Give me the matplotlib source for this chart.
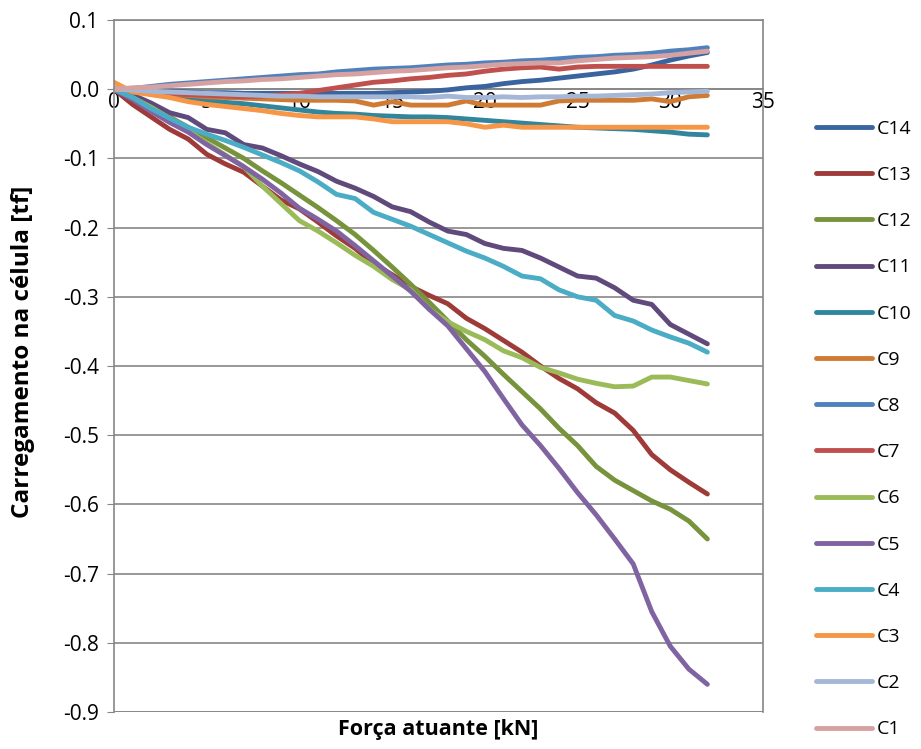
import matplotlib
matplotlib.use("Agg")
import matplotlib.pyplot as plt

# força atuante [kN]
forca = list(range(0, 33))

# carregamento na célula [tf], one list per cell
c14 = [0, -0.001, -0.002, -0.003, -0.004, -0.005, -0.005, -0.006, -0.006, -0.006, -0.006,
       -0.006, -0.006, -0.006, -0.006, -0.005, -0.004, -0.003, -0.001, 0.002, 0.004,
       0.008, 0.011, 0.013, 0.016, 0.019, 0.022, 0.025, 0.029, 0.035, 0.042, 0.048, 0.053]
c13 = [0, -0.022, -0.040, -0.058, -0.072, -0.094, -0.108, -0.120, -0.140, -0.160, -0.173,
       -0.192, -0.212, -0.230, -0.252, -0.268, -0.285, -0.298, -0.310, -0.331, -0.346,
       -0.363, -0.380, -0.400, -0.418, -0.433, -0.453, -0.468, -0.493, -0.528, -0.550,
       -0.568, -0.585]
c12 = [0, -0.010, -0.025, -0.040, -0.055, -0.070, -0.085, -0.100, -0.118, -0.135, -0.153,
       -0.171, -0.190, -0.210, -0.233, -0.257, -0.282, -0.308, -0.335, -0.362, -0.386,
       -0.412, -0.437, -0.462, -0.490, -0.515, -0.545, -0.565, -0.580, -0.595, -0.607,
       -0.624, -0.650]
c11 = [0, -0.008, -0.020, -0.034, -0.041, -0.058, -0.063, -0.080, -0.085, -0.096, -0.108,
       -0.119, -0.133, -0.143, -0.155, -0.170, -0.177, -0.192, -0.205, -0.210, -0.223,
       -0.230, -0.233, -0.244, -0.257, -0.270, -0.273, -0.287, -0.305, -0.311, -0.340,
       -0.354, -0.368]
c10 = [0, -0.003, -0.006, -0.010, -0.013, -0.016, -0.019, -0.021, -0.024, -0.027, -0.030,
       -0.033, -0.035, -0.036, -0.038, -0.039, -0.040, -0.040, -0.041, -0.043, -0.045,
       -0.047, -0.049, -0.051, -0.053, -0.055, -0.056, -0.057, -0.058, -0.060, -0.062,
       -0.065, -0.066]
c9 = [0, -0.002, -0.004, -0.007, -0.009, -0.011, -0.012, -0.013, -0.014, -0.015, -0.016,
      -0.016, -0.016, -0.017, -0.023, -0.018, -0.023, -0.023, -0.023, -0.017, -0.023,
      -0.023, -0.023, -0.023, -0.017, -0.016, -0.016, -0.016, -0.016, -0.014, -0.018,
      -0.011, -0.009]
c8 = [0, 0.001, 0.004, 0.007, 0.009, 0.011, 0.013, 0.015, 0.017, 0.019, 0.021, 0.022,
      0.025, 0.027, 0.029, 0.030, 0.031, 0.033, 0.035, 0.036, 0.038, 0.039, 0.041, 0.042,
      0.044, 0.046, 0.047, 0.049, 0.050, 0.052, 0.055, 0.057, 0.060]
c7 = [0, -0.002, -0.004, -0.006, -0.008, -0.009, -0.010, -0.011, -0.010, -0.008, -0.006,
      -0.002, 0.002, 0.006, 0.010, 0.012, 0.015, 0.017, 0.020, 0.022, 0.026, 0.029, 0.031,
      0.032, 0.029, 0.032, 0.033, 0.033, 0.033, 0.033, 0.033, 0.033, 0.033]
c6 = [0, -0.012, -0.026, -0.042, -0.060, -0.078, -0.095, -0.112, -0.140, -0.165, -0.190,
      -0.205, -0.222, -0.240, -0.256, -0.275, -0.290, -0.318, -0.336, -0.350, -0.362,
      -0.378, -0.388, -0.402, -0.410, -0.419, -0.425, -0.430, -0.429, -0.416, -0.416,
      -0.421, -0.426]
c5 = [0, -0.015, -0.032, -0.048, -0.062, -0.080, -0.096, -0.112, -0.130, -0.150, -0.172,
      -0.188, -0.205, -0.226, -0.248, -0.270, -0.292, -0.318, -0.342, -0.375, -0.408,
      -0.447, -0.485, -0.515, -0.548, -0.583, -0.615, -0.650, -0.686, -0.755, -0.805,
      -0.838, -0.860]
c4 = [0, -0.012, -0.028, -0.042, -0.055, -0.065, -0.074, -0.084, -0.095, -0.106, -0.118,
      -0.134, -0.152, -0.158, -0.178, -0.188, -0.198, -0.210, -0.222, -0.234, -0.244,
      -0.256, -0.270, -0.274, -0.290, -0.300, -0.305, -0.327, -0.335, -0.348, -0.358,
      -0.367, -0.380]
c3 = [0.010, -0.004, -0.008, -0.012, -0.018, -0.022, -0.025, -0.028, -0.031, -0.035,
      -0.038, -0.040, -0.040, -0.040, -0.043, -0.047, -0.047, -0.047, -0.047, -0.050,
      -0.055, -0.052, -0.055, -0.055, -0.055, -0.055, -0.055, -0.055, -0.055, -0.055,
      -0.055, -0.055, -0.055]
c2 = [0, -0.001, -0.003, -0.004, -0.005, -0.006, -0.007, -0.008, -0.009, -0.010, -0.010,
      -0.011, -0.011, -0.011, -0.011, -0.011, -0.011, -0.012, -0.010, -0.012, -0.012,
      -0.011, -0.012, -0.011, -0.011, -0.010, -0.010, -0.009, -0.008, -0.007, -0.005,
      -0.004, -0.003]
c1 = [0, 0.002, 0.003, 0.005, 0.007, 0.009, 0.011, 0.012, 0.014, 0.015, 0.017, 0.019,
      0.021, 0.022, 0.024, 0.026, 0.027, 0.029, 0.031, 0.032, 0.034, 0.036, 0.037, 0.038,
      0.038, 0.041, 0.043, 0.045, 0.046, 0.047, 0.049, 0.052, 0.055]

series = [("C14", c14, "#3A64A0"), ("C13", c13, "#9E3A38"), ("C12", c12, "#77933C"),
          ("C11", c11, "#604A7B"), ("C10", c10, "#31859C"), ("C9", c9, "#D07B33"),
          ("C8", c8, "#4F81BD"), ("C7", c7, "#C0504D"), ("C6", c6, "#9BBB59"),
          ("C5", c5, "#8064A2"), ("C4", c4, "#4BACC6"), ("C3", c3, "#F79646"),
          ("C2", c2, "#A5B7D7"), ("C1", c1, "#D6A2A1")]

grey = "#868686"
plt.rcParams["font.family"] = ["Open Sans", "DejaVu Sans"]

fig = plt.figure(figsize=(9.21, 7.49), dpi=100)
ax = fig.add_axes([114 / 921, 1 - 712 / 749, (763 - 114) / 921, (712 - 20) / 749])

for name, vals, col in series:
    ax.plot(forca, vals, color=col, lw=3.5, label=name,
            solid_capstyle="round", solid_joinstyle="round")

ax.set_xlim(0, 35)
ax.set_ylim(-0.9, 0.1)
ax.set_xticks(range(0, 36, 5))
ax.set_yticks([i / 10 for i in range(-9, 2)])
ax.set_yticklabels([f"{i / 10:.1f}" for i in range(-9, 2)])
ax.yaxis.grid(True, color=grey, lw=1.2)
ax.set_axisbelow(True)
ax.axhline(-0.9, color=grey, lw=1.2, zorder=0)

# x axis crosses at zero, like the original
ax.spines["bottom"].set_position(("data", 0))
for s in ax.spines.values():
    s.set_color(grey)
    s.set_linewidth(1.2)
ax.spines["bottom"].set_zorder(0)
ax.tick_params(axis="x", length=0, pad=2, labelsize=15)
ax.tick_params(axis="y", length=5, color=grey, pad=6, labelsize=15)

ax.set_xlabel("Força atuante [kN]", fontsize=15.5, fontweight="bold")
ax.xaxis.set_label_coords(0.5, -0.01)
ax.set_ylabel("Carregamento na célula [tf]", fontsize=17.5, fontweight="bold")
ax.yaxis.set_label_coords(-0.122, 0.52)

fig.legend(loc="upper left", bbox_to_anchor=(808 / 921, 1 - 112 / 749), frameon=False,
           fontsize=14, handlelength=2.9, handletextpad=0.25, labelspacing=1.45,
           borderaxespad=0)

fig.savefig("out.png", dpi=100)
